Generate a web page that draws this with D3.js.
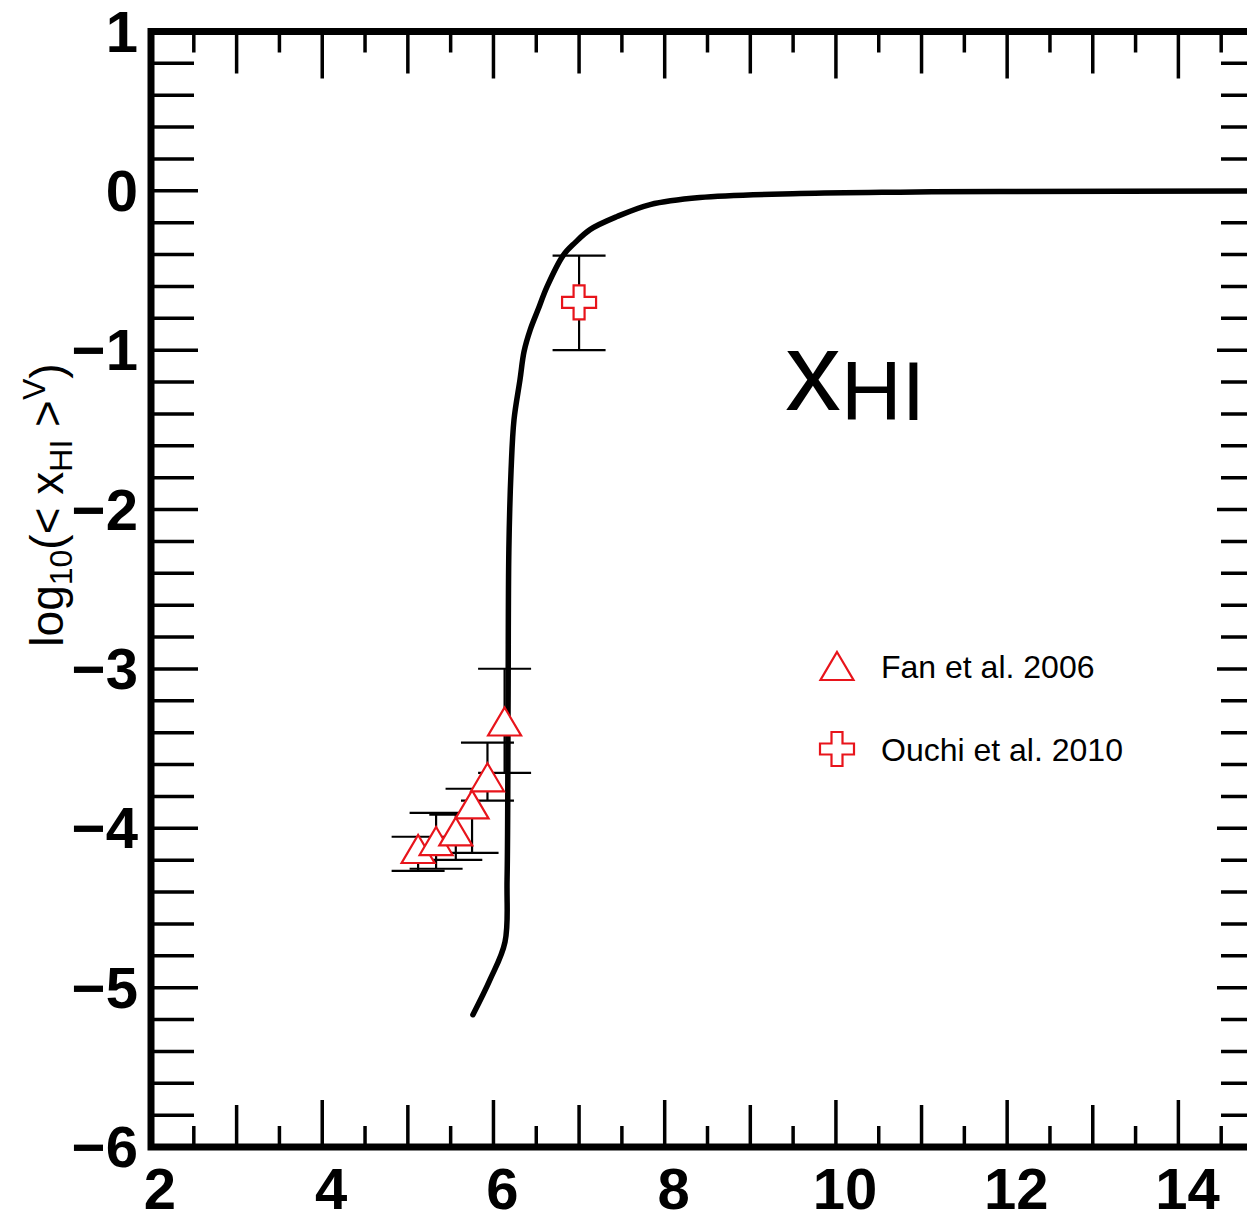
<!DOCTYPE html>
<html>
<head>
<meta charset="utf-8">
<script src="https://cdn.jsdelivr.net/npm/d3@7"></script>
<style>
  html, body { margin: 0; padding: 0; background: #fff; }
  svg { display: block; font-family: "Liberation Sans", Arial, Helvetica, sans-serif; }
</style>
</head>
<body>
<div id="grafica"></div>
<script>
// ==============================
// DATOS
// ==============================

// curva del modelo: redshift z y log10(<xHI>_V)
const curvaZ = [5.76, 5.96, 6.135, 6.159, 6.171, 6.18, 6.206, 6.24, 6.31, 6.357, 6.43, 6.521, 6.626, 6.813, 6.953, 7.128, 7.444, 7.83, 8.41, 9.58, 10.75, 11.92, 15.0];
const curvaLogX = [-5.17, -4.95, -4.713, -4.32, -3.19, -2.25, -1.75, -1.436, -1.185, -1.009, -0.871, -0.745, -0.601, -0.406, -0.325, -0.243, -0.161, -0.086, -0.042, -0.017, -0.008, -0.004, 0.0];

// Fan et al. 2006
const fanZ = [5.12, 5.33, 5.56, 5.75, 5.93, 6.13];
const fanLogX = [-4.13, -4.08, -4.02, -3.85, -3.68, -3.33];
const fanAlto = [-4.053, -3.903, -3.915, -3.752, -3.463, -2.999];
const fanBajo = [-4.267, -4.254, -4.198, -4.154, -3.827, -3.652];

// Ouchi et al. 2010
const ouchiZ = [7.0];
const ouchiLogX = [-0.70];
const ouchiAlto = [-0.406];
const ouchiBajo = [-1.0];

const xEtiquetas = [2, 4, 6, 8, 10, 12, 14];
const yEtiquetas = [1, 0, -1, -2, -3, -4, -5, -6];
const leyenda = ["Fan et al. 2006", "Ouchi et al. 2010"];

// ==============================
// SVG Y ESCALAS
// ==============================

const ANCHO = 1247, ALTO = 1213;
const ROJO = "#e8141b";

const svg = d3.select("#grafica").append("svg")
  .attr("width", ANCHO)
  .attr("height", ALTO);

const x = d3.scaleLinear().domain([2, 15]).range([151, 1264]);
const y = d3.scaleLinear().domain([-6, 1]).range([1147, 31.5]);

// ==============================
// MARCAS DE LOS EJES
// ==============================

const ticksG = svg.append("g").attr("stroke", "#000").attr("stroke-width", 3.5);

const xTicks = d3.range(2, 15.001, 0.5);
const largoX = v => (v % 2 === 0 ? 47 : Number.isInteger(v) ? 42 : 21);
xTicks.forEach(v => {
  const px = x(v);
  ticksG.append("line").attr("x1", px).attr("x2", px).attr("y1", y(-6)).attr("y2", y(-6) - largoX(v));
  ticksG.append("line").attr("x1", px).attr("x2", px).attr("y1", y(1)).attr("y2", y(1) + largoX(v));
});

const yTicks = d3.range(-6, 1.001, 0.2).map(v => Math.round(v * 10) / 10);
const largoY = v => (Number.isInteger(v) ? 47 : 43);
yTicks.forEach(v => {
  const py = y(v);
  ticksG.append("line").attr("x1", x(2)).attr("x2", x(2) + largoY(v)).attr("y1", py).attr("y2", py);
  ticksG.append("line").attr("x1", x(15)).attr("x2", x(15) - largoY(v)).attr("y1", py).attr("y2", py);
});

// marco
svg.append("rect")
  .attr("x", x(2)).attr("y", y(1))
  .attr("width", x(15) - x(2)).attr("height", y(-6) - y(1))
  .attr("fill", "none").attr("stroke", "#000").attr("stroke-width", 7);

// etiquetas
svg.append("g").selectAll("text")
  .data(xEtiquetas)
  .join("text")
  .attr("x", d => x(d) + 9)
  .attr("y", y(-6) + 62)
  .attr("text-anchor", "middle")
  .attr("font-size", 58)
  .attr("font-weight", "bold")
  .text(d => d);

svg.append("g").selectAll("text")
  .data(yEtiquetas)
  .join("text")
  .attr("x", 138)
  .attr("y", d => y(d) + 20)
  .attr("text-anchor", "end")
  .attr("font-size", 58)
  .attr("font-weight", "bold")
  .text(d => (d < 0 ? "\u2212" + Math.abs(d) : d));

// título del eje Y
const tituloY = svg.append("text")
  .attr("transform", "translate(63,505) rotate(-90)")
  .attr("text-anchor", "middle")
  .attr("font-size", 46);
tituloY.append("tspan").text("log");
tituloY.append("tspan").attr("font-size", 32).attr("dy", 9).text("10");
tituloY.append("tspan").attr("dy", -9).text("(< x");
tituloY.append("tspan").attr("font-size", 32).attr("dy", 9).text("HI");
tituloY.append("tspan").attr("dy", -9).text(" >");
tituloY.append("tspan").attr("font-size", 32).attr("dy", -18).text("V");
tituloY.append("tspan").attr("dy", 18).text(")");

// ==============================
// CURVA DEL MODELO
// ==============================

const curva = curvaZ.map((z, i) => [z, curvaLogX[i]]);
svg.append("path")
  .datum(curva)
  .attr("fill", "none")
  .attr("stroke", "#000")
  .attr("stroke-width", 5.5)
  .attr("stroke-linejoin", "round")
  .attr("stroke-linecap", "round")
  .attr("d", d3.line()
    .x(d => x(d[0]))
    .y(d => y(d[1]))
    .curve(d3.curveCatmullRom.alpha(0.5)));

// ==============================
// BARRAS DE ERROR
// ==============================

const errG = svg.append("g").attr("stroke", "#000").attr("stroke-width", 2.2);
function barraError(z, alto, bajo) {
  const px = x(z);
  errG.append("line").attr("x1", px).attr("x2", px).attr("y1", y(alto)).attr("y2", y(bajo));
  errG.append("line").attr("x1", px - 26.5).attr("x2", px + 26.5).attr("y1", y(alto)).attr("y2", y(alto));
  errG.append("line").attr("x1", px - 26.5).attr("x2", px + 26.5).attr("y1", y(bajo)).attr("y2", y(bajo));
}
fanZ.forEach((z, i) => barraError(z, fanAlto[i], fanBajo[i]));
ouchiZ.forEach((z, i) => barraError(z, ouchiAlto[i], ouchiBajo[i]));

// ==============================
// MARCADORES
// ==============================

const triangulo = "M0,-14 L16.5,14 L-16.5,14 Z";
const cruz = "M-5.5,-17 H5.5 V-5.5 H17 V5.5 H5.5 V17 H-5.5 V5.5 H-17 V-5.5 H-5.5 Z";

svg.append("g").selectAll("path")
  .data(fanZ.map((z, i) => [z, fanLogX[i]]))
  .join("path")
  .attr("transform", d => `translate(${x(d[0])},${y(d[1])})`)
  .attr("d", triangulo)
  .attr("fill", "#fff")
  .attr("stroke", ROJO)
  .attr("stroke-width", 2.2);

svg.append("g").selectAll("path")
  .data(ouchiZ.map((z, i) => [z, ouchiLogX[i]]))
  .join("path")
  .attr("transform", d => `translate(${x(d[0])},${y(d[1])})`)
  .attr("d", cruz)
  .attr("fill", "#fff")
  .attr("stroke", ROJO)
  .attr("stroke-width", 2.2);

// ==============================
// ROTULO Y LEYENDA
// ==============================

const rotulo = svg.append("text").attr("x", 785).attr("y", 410);
rotulo.append("tspan").attr("font-size", 112).text("x");
rotulo.append("tspan").attr("font-size", 84).attr("dy", 10).text("HI");

const filas = [
  { texto: leyenda[0], forma: triangulo, y: 666 },
  { texto: leyenda[1], forma: cruz, y: 749 }
];
const ley = svg.append("g");
filas.forEach(f => {
  ley.append("path")
    .attr("transform", `translate(837,${f.y})`)
    .attr("d", f.forma)
    .attr("fill", "#fff")
    .attr("stroke", ROJO)
    .attr("stroke-width", 2.2);
  ley.append("text")
    .attr("x", 881)
    .attr("y", f.y + 12)
    .attr("font-size", 32)
    .text(f.texto);
});
</script>
</body>
</html>
